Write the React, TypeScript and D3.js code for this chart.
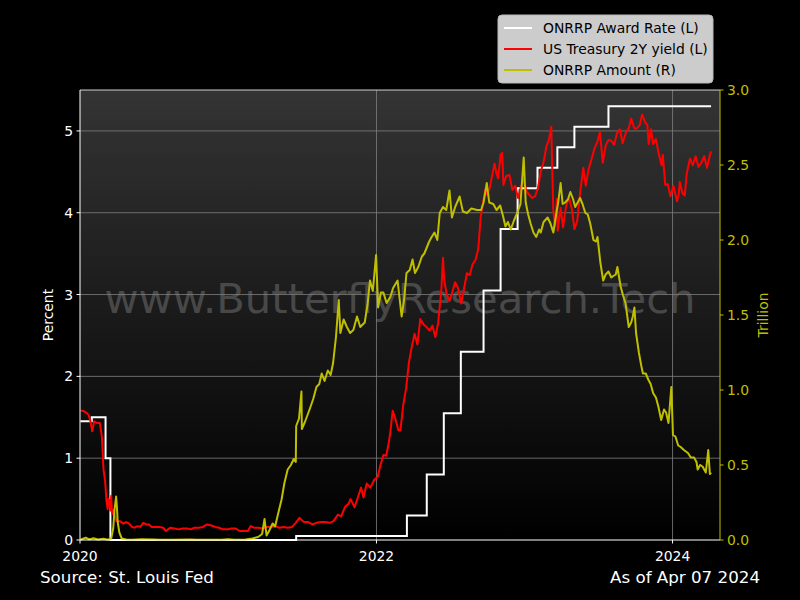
import React, { useEffect, useRef } from "react";
import * as d3 from "d3";

// ONRRP award rate, step changes (percent)
const awardDates = [
  "2020-01-02", "2020-01-30", "2020-03-04", "2020-03-16", "2021-06-17", "2022-03-17",
  "2022-05-05", "2022-06-16", "2022-07-28", "2022-09-22", "2022-11-03", "2022-12-15",
  "2023-02-02", "2023-03-23", "2023-05-04", "2023-07-27", "2024-04-05",
];
const awardRates = [1.45, 1.5, 1.0, 0.0, 0.05, 0.3, 0.8, 1.55, 2.3, 3.05, 3.8, 4.3, 4.55, 4.8, 5.05, 5.3, 5.3];

// US Treasury 2Y yield (percent)
const treasury2y: [string, number][] = [
  ["2020-01-02", 1.58], ["2020-01-08", 1.58], ["2020-01-15", 1.56], ["2020-01-22", 1.53], ["2020-01-27", 1.45],
  ["2020-01-31", 1.33], ["2020-02-05", 1.45], ["2020-02-12", 1.43], ["2020-02-19", 1.43], ["2020-02-24", 1.26],
  ["2020-02-28", 0.86], ["2020-03-03", 0.72], ["2020-03-06", 0.49], ["2020-03-09", 0.38], ["2020-03-11", 0.5],
  ["2020-03-13", 0.49], ["2020-03-16", 0.36], ["2020-03-18", 0.54], ["2020-03-20", 0.32], ["2020-03-24", 0.37],
  ["2020-03-27", 0.3], ["2020-03-31", 0.23], ["2020-04-09", 0.23], ["2020-04-17", 0.2], ["2020-04-24", 0.22],
  ["2020-05-01", 0.2], ["2020-05-08", 0.16], ["2020-05-15", 0.15], ["2020-05-22", 0.17], ["2020-05-29", 0.16],
  ["2020-06-05", 0.21], ["2020-06-12", 0.19], ["2020-06-19", 0.19], ["2020-06-26", 0.16], ["2020-07-06", 0.16],
  ["2020-07-15", 0.16], ["2020-07-24", 0.15], ["2020-07-31", 0.11], ["2020-08-10", 0.15], ["2020-08-21", 0.14],
  ["2020-08-31", 0.13], ["2020-09-10", 0.14], ["2020-09-21", 0.14], ["2020-09-30", 0.13], ["2020-10-09", 0.15],
  ["2020-10-20", 0.15], ["2020-10-30", 0.16], ["2020-11-09", 0.19], ["2020-11-18", 0.18], ["2020-11-30", 0.16],
  ["2020-12-09", 0.15], ["2020-12-18", 0.13], ["2020-12-31", 0.13], ["2021-01-08", 0.14], ["2021-01-19", 0.14],
  ["2021-01-29", 0.11], ["2021-02-09", 0.11], ["2021-02-18", 0.11], ["2021-02-25", 0.17], ["2021-03-05", 0.15],
  ["2021-03-16", 0.15], ["2021-03-26", 0.14], ["2021-04-06", 0.16], ["2021-04-16", 0.16], ["2021-04-27", 0.17],
  ["2021-05-06", 0.15], ["2021-05-17", 0.16], ["2021-05-27", 0.15], ["2021-06-07", 0.16], ["2021-06-16", 0.21],
  ["2021-06-25", 0.27], ["2021-07-06", 0.22], ["2021-07-16", 0.22], ["2021-07-27", 0.19], ["2021-08-06", 0.21],
  ["2021-08-17", 0.22], ["2021-08-27", 0.22], ["2021-09-08", 0.21], ["2021-09-17", 0.23], ["2021-09-28", 0.31],
  ["2021-10-06", 0.29], ["2021-10-15", 0.4], ["2021-10-25", 0.45], ["2021-10-29", 0.5], ["2021-11-08", 0.4],
  ["2021-11-16", 0.52], ["2021-11-24", 0.64], ["2021-11-30", 0.52], ["2021-12-08", 0.69], ["2021-12-17", 0.64],
  ["2021-12-27", 0.74], ["2022-01-04", 0.77], ["2022-01-10", 0.9], ["2022-01-18", 1.04], ["2022-01-25", 1.03],
  ["2022-01-31", 1.18], ["2022-02-04", 1.31], ["2022-02-10", 1.58], ["2022-02-16", 1.49], ["2022-02-24", 1.34],
  ["2022-03-01", 1.34], ["2022-03-08", 1.65], ["2022-03-15", 1.85], ["2022-03-22", 2.17], ["2022-03-29", 2.36],
  ["2022-04-05", 2.52], ["2022-04-12", 2.39], ["2022-04-19", 2.7], ["2022-04-28", 2.63], ["2022-05-05", 2.6],
  ["2022-05-12", 2.56], ["2022-05-19", 2.62], ["2022-05-26", 2.48], ["2022-06-02", 2.65], ["2022-06-10", 3.06],
  ["2022-06-14", 3.45], ["2022-06-17", 3.18], ["2022-06-23", 3.01], ["2022-06-30", 2.92], ["2022-07-07", 3.03],
  ["2022-07-14", 3.15], ["2022-07-21", 3.08], ["2022-07-29", 2.89], ["2022-08-04", 3.05], ["2022-08-12", 3.26],
  ["2022-08-19", 3.24], ["2022-08-26", 3.37], ["2022-09-02", 3.42], ["2022-09-09", 3.56], ["2022-09-15", 3.95],
  ["2022-09-26", 4.28], ["2022-09-30", 4.22], ["2022-10-07", 4.3], ["2022-10-19", 4.6], ["2022-10-24", 4.48],
  ["2022-10-28", 4.42], ["2022-11-03", 4.71], ["2022-11-07", 4.73], ["2022-11-10", 4.34], ["2022-11-17", 4.45],
  ["2022-11-25", 4.46], ["2022-12-02", 4.28], ["2022-12-09", 4.33], ["2022-12-16", 4.18], ["2022-12-23", 4.31],
  ["2022-12-30", 4.41], ["2023-01-06", 4.26], ["2023-01-13", 4.22], ["2023-01-20", 4.18], ["2023-01-27", 4.2],
  ["2023-02-03", 4.3], ["2023-02-10", 4.5], ["2023-02-17", 4.62], ["2023-02-24", 4.81], ["2023-03-02", 4.89],
  ["2023-03-08", 5.05], ["2023-03-10", 4.6], ["2023-03-13", 4.03], ["2023-03-17", 3.84], ["2023-03-22", 4.17],
  ["2023-03-24", 3.78], ["2023-03-31", 4.06], ["2023-04-06", 3.82], ["2023-04-14", 4.1], ["2023-04-21", 4.18],
  ["2023-04-28", 4.04], ["2023-05-04", 3.8], ["2023-05-11", 3.9], ["2023-05-18", 4.24], ["2023-05-26", 4.55],
  ["2023-06-01", 4.33], ["2023-06-08", 4.53], ["2023-06-15", 4.65], ["2023-06-22", 4.78], ["2023-06-30", 4.87],
  ["2023-07-06", 4.99], ["2023-07-13", 4.61], ["2023-07-20", 4.82], ["2023-07-27", 4.89], ["2023-08-03", 4.88],
  ["2023-08-10", 4.83], ["2023-08-17", 4.97], ["2023-08-24", 5.02], ["2023-08-31", 4.85], ["2023-09-08", 4.98],
  ["2023-09-15", 5.03], ["2023-09-21", 5.15], ["2023-09-29", 5.03], ["2023-10-05", 5.03], ["2023-10-12", 5.07],
  ["2023-10-18", 5.2], ["2023-10-25", 5.11], ["2023-10-31", 5.07], ["2023-11-03", 4.84], ["2023-11-09", 5.02],
  ["2023-11-14", 4.84], ["2023-11-21", 4.9], ["2023-11-28", 4.72], ["2023-12-05", 4.58], ["2023-12-08", 4.71],
  ["2023-12-14", 4.34], ["2023-12-20", 4.35], ["2023-12-27", 4.2], ["2024-01-03", 4.33], ["2024-01-12", 4.14],
  ["2024-01-16", 4.22], ["2024-01-19", 4.38], ["2024-01-25", 4.24], ["2024-01-31", 4.21], ["2024-02-05", 4.48],
  ["2024-02-13", 4.66], ["2024-02-20", 4.58], ["2024-02-27", 4.69], ["2024-03-05", 4.56], ["2024-03-12", 4.61],
  ["2024-03-19", 4.69], ["2024-03-26", 4.55], ["2024-04-02", 4.7], ["2024-04-05", 4.75],
];

// ONRRP amount (trillion)
const onrrpAmount: [string, number][] = [
  ["2020-01-02", 0.002], ["2020-01-15", 0.015], ["2020-01-24", 0.004], ["2020-02-03", 0.012], ["2020-02-14", 0.003],
  ["2020-02-28", 0.008], ["2020-03-10", 0.002], ["2020-03-18", 0.01], ["2020-03-23", 0.08], ["2020-03-26", 0.2],
  ["2020-03-30", 0.29], ["2020-04-01", 0.22], ["2020-04-03", 0.12], ["2020-04-07", 0.05], ["2020-04-13", 0.01],
  ["2020-04-24", 0.004], ["2020-05-08", 0.002], ["2020-06-01", 0.005], ["2020-06-30", 0.004], ["2020-07-15", 0.001],
  ["2020-08-14", 0.002], ["2020-09-30", 0.003], ["2020-10-15", 0.001], ["2020-11-16", 0.002], ["2020-12-15", 0.001],
  ["2020-12-31", 0.005], ["2021-01-15", 0.002], ["2021-02-12", 0.003], ["2021-03-01", 0.01], ["2021-03-15", 0.02],
  ["2021-03-25", 0.04], ["2021-03-31", 0.14], ["2021-04-05", 0.03], ["2021-04-13", 0.07], ["2021-04-20", 0.11],
  ["2021-04-26", 0.09], ["2021-05-03", 0.17], ["2021-05-12", 0.27], ["2021-05-19", 0.38], ["2021-05-27", 0.47],
  ["2021-06-04", 0.5], ["2021-06-11", 0.54], ["2021-06-16", 0.52], ["2021-06-17", 0.76], ["2021-06-24", 0.81],
  ["2021-06-30", 0.99], ["2021-07-01", 0.74], ["2021-07-09", 0.79], ["2021-07-20", 0.87], ["2021-07-29", 0.94],
  ["2021-08-06", 1.02], ["2021-08-13", 1.04], ["2021-08-19", 1.11], ["2021-08-26", 1.06], ["2021-09-03", 1.13],
  ["2021-09-10", 1.1], ["2021-09-16", 1.18], ["2021-09-23", 1.35], ["2021-09-30", 1.6], ["2021-10-04", 1.38],
  ["2021-10-12", 1.47], ["2021-10-20", 1.42], ["2021-10-28", 1.38], ["2021-11-05", 1.4], ["2021-11-14", 1.49],
  ["2021-11-22", 1.42], ["2021-12-03", 1.45], ["2021-12-10", 1.57], ["2021-12-16", 1.73], ["2021-12-23", 1.66],
  ["2021-12-31", 1.9], ["2022-01-05", 1.55], ["2022-01-12", 1.65], ["2022-01-18", 1.65], ["2022-01-26", 1.58],
  ["2022-02-04", 1.62], ["2022-02-11", 1.68], ["2022-02-22", 1.73], ["2022-03-04", 1.49], ["2022-03-10", 1.6],
  ["2022-03-16", 1.78], ["2022-03-24", 1.8], ["2022-03-31", 1.87], ["2022-04-06", 1.78], ["2022-04-14", 1.82],
  ["2022-04-23", 1.89], ["2022-04-29", 1.91], ["2022-05-05", 1.95], ["2022-05-11", 1.99], ["2022-05-17", 2.02],
  ["2022-05-24", 2.05], ["2022-05-31", 2.0], ["2022-06-06", 2.18], ["2022-06-14", 2.22], ["2022-06-22", 2.2],
  ["2022-06-30", 2.33], ["2022-07-06", 2.15], ["2022-07-14", 2.22], ["2022-07-25", 2.29], ["2022-08-02", 2.19],
  ["2022-08-12", 2.18], ["2022-08-23", 2.21], ["2022-09-06", 2.2], ["2022-09-16", 2.2], ["2022-09-22", 2.25],
  ["2022-09-30", 2.38], ["2022-10-06", 2.25], ["2022-10-16", 2.24], ["2022-10-24", 2.2], ["2022-11-02", 2.23],
  ["2022-11-09", 2.16], ["2022-11-15", 2.09], ["2022-11-21", 2.12], ["2022-11-28", 2.07], ["2022-12-06", 2.13],
  ["2022-12-14", 2.18], ["2022-12-22", 2.24], ["2022-12-30", 2.55], ["2023-01-04", 2.25], ["2023-01-10", 2.17],
  ["2023-01-16", 2.11], ["2023-01-23", 2.05], ["2023-01-30", 2.02], ["2023-02-06", 2.07], ["2023-02-10", 2.05],
  ["2023-02-17", 2.12], ["2023-02-27", 2.15], ["2023-03-06", 2.11], ["2023-03-13", 2.05], ["2023-03-20", 2.17],
  ["2023-03-25", 2.25], ["2023-03-31", 2.38], ["2023-04-05", 2.24], ["2023-04-11", 2.25], ["2023-04-18", 2.27],
  ["2023-04-24", 2.32], ["2023-05-01", 2.27], ["2023-05-06", 2.22], ["2023-05-12", 2.25], ["2023-05-18", 2.28],
  ["2023-05-24", 2.24], ["2023-05-31", 2.18], ["2023-06-06", 2.17], ["2023-06-12", 2.11], ["2023-06-20", 2.0],
  ["2023-06-26", 1.99], ["2023-06-30", 2.02], ["2023-07-07", 1.85], ["2023-07-14", 1.73], ["2023-07-20", 1.77],
  ["2023-07-27", 1.79], ["2023-08-03", 1.75], ["2023-08-08", 1.76], ["2023-08-14", 1.77], ["2023-08-18", 1.82],
  ["2023-08-26", 1.69], ["2023-09-01", 1.63], ["2023-09-07", 1.58], ["2023-09-15", 1.42], ["2023-09-21", 1.45],
  ["2023-09-25", 1.49], ["2023-09-29", 1.55], ["2023-10-03", 1.38], ["2023-10-10", 1.25], ["2023-10-16", 1.16],
  ["2023-10-20", 1.11], ["2023-10-27", 1.11], ["2023-11-02", 1.07], ["2023-11-08", 1.04], ["2023-11-14", 0.98],
  ["2023-11-21", 0.95], ["2023-11-27", 0.89], ["2023-12-04", 0.8], ["2023-12-11", 0.87], ["2023-12-16", 0.85],
  ["2023-12-22", 0.78], ["2023-12-29", 1.02], ["2024-01-02", 0.7], ["2024-01-08", 0.69], ["2024-01-15", 0.63],
  ["2024-01-21", 0.62], ["2024-01-29", 0.6], ["2024-02-08", 0.58], ["2024-02-15", 0.55], ["2024-02-23", 0.55],
  ["2024-02-29", 0.52], ["2024-03-03", 0.47], ["2024-03-09", 0.5], ["2024-03-15", 0.49], ["2024-03-23", 0.45],
  ["2024-03-29", 0.6], ["2024-04-02", 0.44], ["2024-04-05", 0.45],
];

const leftTicks = [0, 1, 2, 3, 4, 5];
const rightTicks = [0, 0.5, 1.0, 1.5, 2.0, 2.5, 3.0];
const yearTicks = ["2020-01-01", "2022-01-01", "2024-01-01"];
const legendItems = [
  { label: "ONRRP Award Rate (L)", color: "#ffffff" },
  { label: "US Treasury 2Y yield (L)", color: "#ff0000" },
  { label: "ONRRP Amount (R)", color: "#bfbf00" },
];

function App() {
  const svgRef = useRef<SVGSVGElement>(null);

  useEffect(() => {
    if (!svgRef.current) return;
    const width = 800;
    const height = 600;
    const left = 80, right = 720, top = 90, bottom = 540;
    const font = "DejaVu Sans, sans-serif";
    const fs = 13.9;
    const yellow = "#bfbf00";
    const parse = d3.timeParse("%Y-%m-%d");

    const svg = d3.select(svgRef.current).attr("width", width).attr("height", height);
    svg.selectAll("*").remove();

    const x = d3.scaleTime()
      .domain([parse("2020-01-01")!, parse("2024-04-27")!])
      .range([left, right]);
    const yL = d3.scaleLinear().domain([0, 5.5]).range([bottom, top]);
    const yR = d3.scaleLinear().domain([0, 3]).range([bottom, top]);

    svg.append("rect").attr("width", width).attr("height", height).attr("fill", "#000");

    const grad = svg.append("defs").append("linearGradient")
      .attr("id", "bg").attr("x1", 0).attr("y1", 0).attr("x2", 0).attr("y2", 1);
    grad.append("stop").attr("offset", "0%").attr("stop-color", "#343434");
    grad.append("stop").attr("offset", "100%").attr("stop-color", "#000000");

    svg.append("rect")
      .attr("x", left).attr("y", top)
      .attr("width", right - left).attr("height", bottom - top)
      .attr("fill", "url(#bg)");

    // grid
    svg.append("g").selectAll("line").data(leftTicks.filter((t) => t > 0)).join("line")
      .attr("x1", left).attr("x2", right)
      .attr("y1", (d) => yL(d)).attr("y2", (d) => yL(d))
      .attr("stroke", "#808080").attr("stroke-width", 0.8);
    svg.append("g").selectAll("line").data(yearTicks.slice(1)).join("line")
      .attr("x1", (d) => x(parse(d)!)).attr("x2", (d) => x(parse(d)!))
      .attr("y1", top).attr("y2", bottom)
      .attr("stroke", "#808080").attr("stroke-width", 0.8);

    // watermark
    svg.append("text")
      .attr("x", (left + right) / 2).attr("y", 298)
      .attr("text-anchor", "middle").attr("dominant-baseline", "central")
      .attr("font-family", font).attr("font-size", 41.7)
      .attr("fill", "#808080").attr("opacity", 0.45)
      .text("www.ButterflyResearch.Tech");

    const plot = svg.append("g");

    const awardLine = d3.line<number>()
      .x((_, i) => x(parse(awardDates[i])!))
      .y((d) => yL(d))
      .curve(d3.curveStepAfter);
    plot.append("path").attr("d", awardLine(awardRates)!)
      .attr("fill", "none").attr("stroke", "#ffffff").attr("stroke-width", 2);

    const yieldLine = d3.line<[string, number]>()
      .x((d) => x(parse(d[0])!))
      .y((d) => yL(d[1]));
    plot.append("path").attr("d", yieldLine(treasury2y)!)
      .attr("fill", "none").attr("stroke", "#ff0000").attr("stroke-width", 2)
      .attr("stroke-linejoin", "round");

    const amountLine = d3.line<[string, number]>()
      .x((d) => x(parse(d[0])!))
      .y((d) => yR(d[1]));
    plot.append("path").attr("d", amountLine(onrrpAmount)!)
      .attr("fill", "none").attr("stroke", yellow).attr("stroke-width", 2)
      .attr("stroke-linejoin", "round");

    // spines
    svg.append("line").attr("x1", left).attr("x2", right).attr("y1", top).attr("y2", top)
      .attr("stroke", "#ffffff").attr("stroke-width", 0.8);
    svg.append("line").attr("x1", left).attr("x2", right).attr("y1", bottom).attr("y2", bottom)
      .attr("stroke", "#ffffff").attr("stroke-width", 1);
    svg.append("line").attr("x1", left).attr("x2", left).attr("y1", top).attr("y2", bottom)
      .attr("stroke", "#ffffff").attr("stroke-width", 1);
    svg.append("line").attr("x1", right).attr("x2", right).attr("y1", top).attr("y2", bottom)
      .attr("stroke", yellow).attr("stroke-width", 1);

    // left axis
    const lg = svg.append("g").selectAll("g").data(leftTicks).join("g")
      .attr("transform", (d) => `translate(${left},${yL(d)})`);
    lg.append("line").attr("x1", -3.5).attr("x2", 0).attr("stroke", "#fff");
    lg.append("text").attr("x", -7).attr("text-anchor", "end").attr("dominant-baseline", "central")
      .attr("font-family", font).attr("font-size", fs).attr("fill", "#fff")
      .text((d) => String(d));

    // right axis
    const rg = svg.append("g").selectAll("g").data(rightTicks).join("g")
      .attr("transform", (d) => `translate(${right},${yR(d)})`);
    rg.append("line").attr("x1", 0).attr("x2", 3.5).attr("stroke", yellow);
    rg.append("text").attr("x", 7).attr("text-anchor", "start").attr("dominant-baseline", "central")
      .attr("font-family", font).attr("font-size", fs).attr("fill", yellow)
      .text((d) => d.toFixed(1));

    // bottom axis
    const bg = svg.append("g").selectAll("g").data(yearTicks).join("g")
      .attr("transform", (d) => `translate(${x(parse(d)!)},${bottom})`);
    bg.append("line").attr("y1", 0).attr("y2", 3.5).attr("stroke", "#fff");
    bg.append("text").attr("y", 16).attr("text-anchor", "middle").attr("dominant-baseline", "central")
      .attr("font-family", font).attr("font-size", fs).attr("fill", "#fff")
      .text((d) => d3.timeFormat("%Y")(parse(d)!));

    // axis labels
    svg.append("text")
      .attr("transform", `translate(48,${(top + bottom) / 2}) rotate(-90)`)
      .attr("text-anchor", "middle").attr("dominant-baseline", "central")
      .attr("font-family", font).attr("font-size", fs).attr("fill", "#fff")
      .text("Percent");
    svg.append("text")
      .attr("transform", `translate(763,${(top + bottom) / 2}) rotate(-90)`)
      .attr("text-anchor", "middle").attr("dominant-baseline", "central")
      .attr("font-family", font).attr("font-size", fs).attr("fill", yellow)
      .text("Trillion");

    // legend
    const leg = svg.append("g").attr("transform", "translate(498,15)");
    leg.append("rect").attr("width", 215).attr("height", 68).attr("rx", 4)
      .attr("fill", "#cccccc").attr("stroke", "#b8b8b8");
    const li = leg.selectAll("g").data(legendItems).join("g")
      .attr("transform", (_, i) => `translate(0,${13 + i * 21})`);
    li.append("line").attr("x1", 6).attr("x2", 34)
      .attr("stroke", (d) => d.color).attr("stroke-width", 2);
    li.append("text").attr("x", 45).attr("dominant-baseline", "central")
      .attr("font-family", font).attr("font-size", fs).attr("fill", "#000")
      .text((d) => d.label);

    // footer
    svg.append("text").attr("x", 40).attr("y", 577).attr("dominant-baseline", "central")
      .attr("font-family", font).attr("font-size", 16.7).attr("fill", "#fff")
      .text("Source: St. Louis Fed");
    svg.append("text").attr("x", 760).attr("y", 577).attr("text-anchor", "end")
      .attr("dominant-baseline", "central")
      .attr("font-family", font).attr("font-size", 16.7).attr("fill", "#fff")
      .text("As of Apr 07 2024");
  }, []);

  return (
    <div style={{ position: "fixed", left: 0, top: 0, width: 800, height: 600, background: "#000" }}>
      <svg ref={svgRef} style={{ display: "block" }} />
    </div>
  );
}

export default App;
